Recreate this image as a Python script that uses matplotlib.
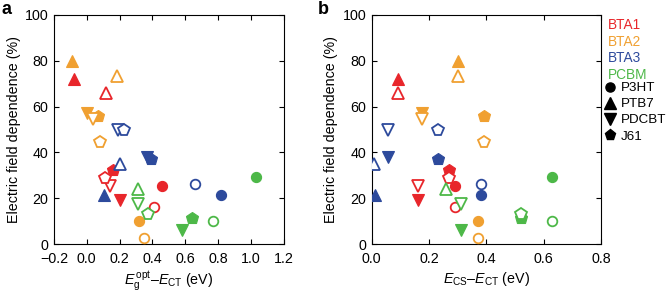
import numpy as np
import matplotlib
matplotlib.use("Agg")
import matplotlib.pyplot as plt
from matplotlib.lines import Line2D
from matplotlib.ticker import FuncFormatter

plt.rcParams['font.family'] = ['Liberation Sans', 'DejaVu Sans']
plt.rcParams['mathtext.fontset'] = 'custom'
plt.rcParams['mathtext.rm'] = 'Liberation Sans'
plt.rcParams['mathtext.it'] = 'Liberation Sans:italic'
plt.rcParams['mathtext.bf'] = 'Liberation Sans:bold'

# ---- data ----
acceptors = ["BTA1", "BTA2", "BTA3", "PCBM"]
acceptor_colors = ["#E8262B", "#F0A031", "#2D4A9C", "#4DB848"]
donors = ["P3HT", "PTB7", "PDCBT", "J61"]
donor_markers = ["o", "^", "v", "p"]

nan = np.nan
# rows: acceptors, columns: donors (P3HT, PTB7, PDCBT, J61)
y_filled = [[25.3, 72.0, 19.0, 32.3],
            [10.0, 80.0, 57.0, 56.0],
            [21.5, 21.5, 38.0, 37.0],
            [29.4, nan, 6.0, 11.4]]
y_open = [[16.0, 66.0, 25.3, 29.0],
          [2.5, 73.5, 54.8, 44.6],
          [26.0, 35.0, 50.0, 50.0],
          [10.0, 24.0, 17.3, 13.0]]

# panel a: Eg_opt - E_CT
xa_filled = [[0.46, -0.08, 0.20, 0.16],
             [0.32, -0.09, 0.00, 0.07],
             [0.82, 0.105, 0.37, 0.39],
             [1.03, nan, 0.58, 0.64]]
xa_open = [[0.41, 0.12, 0.14, 0.11],
           [0.35, 0.185, 0.04, 0.08],
           [0.66, 0.20, 0.19, 0.23],
           [0.77, 0.31, 0.31, 0.375]]

# panel b: E_CS - E_CT
xb_filled = [[0.29, 0.09, 0.16, 0.27],
             [0.37, 0.30, 0.175, 0.39],
             [0.38, 0.01, 0.057, 0.23],
             [0.63, nan, 0.31, 0.52]]
xb_open = [[0.29, 0.09, 0.16, 0.27],
           [0.37, 0.30, 0.175, 0.39],
           [0.38, 0.008, 0.058, 0.23],
           [0.63, 0.26, 0.31, 0.52]]

xticks_a = [-0.2, 0.0, 0.2, 0.4, 0.6, 0.8, 1.0, 1.2]
xticks_b = [0.0, 0.2, 0.4, 0.6, 0.8]
yticks = [0, 20, 40, 60, 80, 100]

W, H = 667, 292
fig = plt.figure(figsize=(W / 100, H / 100), dpi=100)
ax_a = fig.add_axes([54 / W, 48 / H, 229.5 / W, 229 / H])
ax_b = fig.add_axes([371.7 / W, 48 / H, 229.5 / W, 229 / H])

FS = 10.3
MS = {"o": 7.3, "^": 9.0, "v": 9.0, "p": 8.8}


def fmt(v, pos):
    s = "%.1f" % v
    return s.replace("-", "\u2212")


def draw(ax, xf, xo):
    for i, col in enumerate(acceptor_colors):
        for j, mk in enumerate(donor_markers):
            ax.plot(xf[i][j], y_filled[i][j], marker=mk, color=col, ms=MS[mk],
                    mec=col, mfc=col, mew=0.8, ls="none", zorder=3)
    for i, col in enumerate(acceptor_colors):
        for j, mk in enumerate(donor_markers):
            ax.plot(xo[i][j], y_open[i][j], marker=mk, color=col, ms=MS[mk] * 0.95,
                    mec=col, mfc="white", mew=1.3, ls="none", zorder=4)
    ax.set_ylim(0, 100)
    ax.set_yticks(yticks)
    ax.tick_params(direction="in", top=True, right=True, labelsize=FS,
                   length=3.5, width=0.8)
    ax.tick_params(axis="x", pad=6)
    ax.tick_params(axis="y", pad=4)
    ax.xaxis.set_major_formatter(FuncFormatter(fmt))
    for s in ax.spines.values():
        s.set_linewidth(0.8)
    ax.set_ylabel("Electric field dependence (%)", fontsize=FS, labelpad=3)


draw(ax_a, xa_filled, xa_open)
ax_a.set_xlim(-0.2, 1.2)
ax_a.set_xticks(xticks_a)
ax_a.set_xlabel(r"$E_\mathrm{g}^{\,\mathrm{opt}}$" + "\u2013" + r"$E_\mathrm{CT}$ (eV)",
                fontsize=FS, labelpad=2)

draw(ax_b, xb_filled, xb_open)
ax_b.set_xlim(0, 0.8)
ax_b.set_xticks(xticks_b)
ax_b.set_xlabel(r"$E_\mathrm{CS}$" + "\u2013" + r"$E_\mathrm{CT}$ (eV)",
                fontsize=FS, labelpad=3)

fig.text(1 / W, 1 - 10 / H, "a", fontsize=13, fontweight="bold", va="center", ha="left")
fig.text(318 / W, 1 - 10 / H, "b", fontsize=13, fontweight="bold", va="center", ha="left")

# acceptor colour key
for k, (name, col) in enumerate(zip(acceptors, acceptor_colors)):
    fig.text(608 / W, 1 - (25 + 16.6 * k) / H, name, color=col, fontsize=9.8,
             va="center", ha="left")

# donor marker key
handles = [Line2D([], [], marker=m, color="black", ls="none", ms=MS[m] * 0.9)
           for m in donor_markers]
fig.legend(handles, donors, loc="upper left", bbox_to_anchor=(605 / W, 1 - 82 / H),
           frameon=False, fontsize=9.6, handlelength=0.8, handletextpad=0.4,
           labelspacing=0.28, borderpad=0, borderaxespad=0)

fig.savefig("out.png", dpi=100)
